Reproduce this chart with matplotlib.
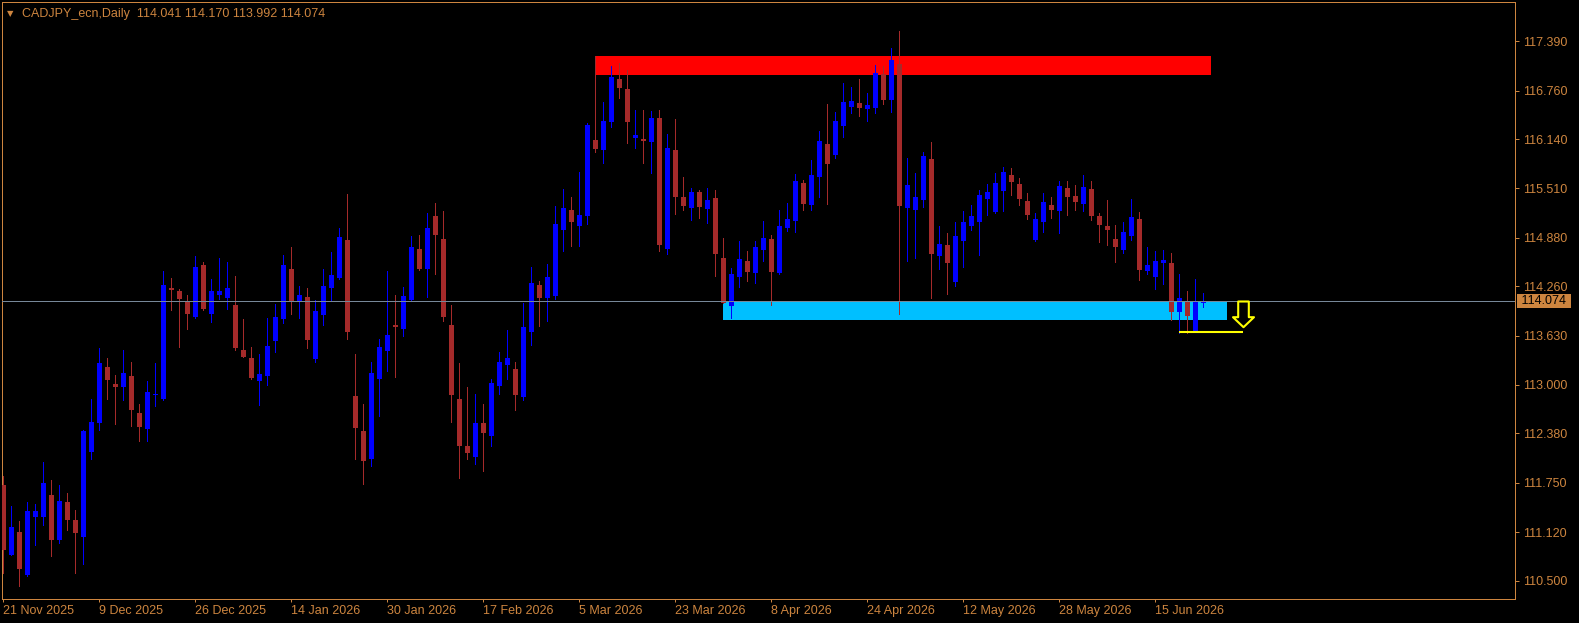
import matplotlib
matplotlib.use('Agg')
import matplotlib.pyplot as plt
from matplotlib.path import Path
from matplotlib.patches import Rectangle
import numpy as np

# daily candles, CADJPY
opens = [111.72, 110.83, 111.12, 110.57, 111.31, 111.31, 111.59, 111.02, 111.50, 111.27,
         111.06, 112.14, 112.51, 113.23, 113.01, 112.97, 113.11, 112.64, 112.44, 112.87,
         112.82, 114.24, 114.20, 114.06, 113.87, 114.53, 113.91, 114.15, 114.11, 114.02,
         113.45, 113.34, 113.05, 113.11, 113.56, 113.84, 114.48, 114.06, 114.12, 113.33,
         113.89, 114.24, 114.37, 114.85, 112.86, 112.41, 112.05, 113.07, 113.43, 113.77,
         113.71, 114.08, 114.74, 114.48, 115.16, 114.86, 113.77, 112.82, 112.22, 112.08,
         112.51, 112.35, 112.99, 113.25, 113.20, 112.85, 113.68, 114.28, 114.11, 114.14,
         114.98, 115.23, 115.03, 115.16, 116.13, 116.00, 116.36, 116.91, 116.78, 116.15,
         116.14, 116.10, 116.41, 114.74, 116.00, 115.40, 115.26, 115.47, 115.25, 115.39,
         114.62, 114.01, 114.38, 114.58, 114.43, 114.72, 114.86, 114.43, 115.00, 115.09,
         115.58, 115.30, 115.66, 116.08, 115.94, 116.31, 116.55, 116.60, 116.53, 116.54,
         116.97, 116.64, 117.10, 115.26, 115.23, 115.36, 115.89, 114.65, 114.79, 114.32,
         114.84, 115.03, 115.08, 115.38, 115.21, 115.48, 115.68, 115.57, 115.35, 114.85,
         115.08, 115.30, 115.22, 115.52, 115.41, 115.31, 115.50, 115.16, 115.03, 114.86,
         114.72, 114.90, 115.12, 114.46, 114.38, 114.56, 114.56, 113.93, 114.06, 113.69,
         114.041]
highs = [111.84, 111.45, 111.26, 111.50, 111.48, 112.01, 111.79, 111.72, 111.62, 111.40,
         112.42, 112.82, 113.47, 113.34, 113.13, 113.45, 113.29, 112.76, 113.05, 113.28,
         114.45, 114.37, 114.23, 114.15, 114.65, 114.57, 114.35, 114.62, 114.57, 114.39,
         113.84, 113.48, 113.40, 113.85, 114.03, 114.66, 114.76, 114.26, 114.24, 114.09,
         114.48, 114.70, 115.00, 115.44, 113.40, 112.76, 113.29, 113.59, 114.45, 114.15,
         114.25, 114.90, 114.92, 115.20, 115.32, 115.22, 114.02, 113.28, 112.97, 112.88,
         112.76, 113.07, 113.42, 113.70, 113.29, 114.05, 114.51, 114.33, 114.55, 115.29,
         115.50, 115.40, 115.72, 116.35, 117.20, 116.61, 117.07, 117.11, 117.02, 116.51,
         116.51, 116.50, 116.51, 116.21, 116.40, 115.66, 115.52, 115.49, 115.52, 115.49,
         114.88, 114.49, 114.84, 114.71, 114.84, 115.09, 114.92, 115.23, 115.32, 115.69,
         115.62, 115.87, 116.24, 116.59, 116.49, 116.86, 116.81, 116.91, 116.73, 117.09,
         117.07, 117.30, 117.52, 115.90, 115.71, 115.98, 116.10, 115.03, 114.94, 115.08,
         115.22, 115.30, 115.49, 115.57, 115.71, 115.78, 115.77, 115.64, 115.45, 115.20,
         115.45, 115.40, 115.60, 115.60, 115.55, 115.68, 115.60, 115.20, 115.36, 115.04,
         115.08, 115.38, 115.21, 114.76, 114.71, 114.72, 114.69, 114.42, 114.20, 114.35,
         114.170]
lows = [110.60, 110.82, 110.43, 110.56, 110.95, 111.21, 110.81, 110.98, 111.15, 110.60,
        110.71, 112.05, 112.42, 112.82, 112.50, 112.81, 112.47, 112.28, 112.28, 112.73,
        112.81, 113.96, 113.48, 113.71, 113.86, 113.96, 113.80, 114.10, 113.97, 113.45,
        113.35, 113.08, 112.74, 113.00, 113.42, 113.79, 113.91, 113.85, 113.47, 113.29,
        113.77, 114.07, 114.35, 113.59, 112.05, 111.73, 111.96, 112.60, 113.18, 113.10,
        113.63, 114.07, 114.47, 114.12, 114.42, 113.82, 112.53, 111.81, 112.05, 111.99,
        111.90, 112.22, 112.88, 113.07, 112.68, 112.81, 113.51, 113.75, 113.82, 114.10,
        114.71, 114.78, 114.78, 115.06, 115.98, 115.83, 116.30, 116.67, 116.09, 116.03,
        115.83, 115.71, 114.71, 114.67, 115.18, 115.23, 115.11, 115.13, 115.07, 114.39,
        114.04, 113.85, 114.25, 114.33, 114.30, 114.58, 114.02, 114.42, 114.97, 114.95,
        115.23, 115.23, 115.40, 115.31, 115.90, 116.17, 116.47, 116.44, 116.37, 116.47,
        116.59, 116.49, 113.91, 114.58, 114.62, 115.27, 114.11, 114.48, 114.16, 114.26,
        114.51, 114.98, 114.66, 115.17, 115.20, 115.22, 115.43, 115.30, 115.12, 114.84,
        114.95, 115.13, 114.94, 115.17, 115.23, 115.22, 115.11, 114.83, 114.79, 114.57,
        114.69, 114.85, 114.34, 114.42, 114.23, 114.29, 113.83, 113.66, 113.66, 113.68,
        113.992]
closes = [110.89, 111.18, 110.65, 111.39, 111.39, 111.75, 111.02, 111.52, 111.27, 111.11,
          112.41, 112.53, 113.28, 113.06, 112.97, 113.15, 112.68, 112.46, 112.91, 112.88,
          114.28, 114.21, 114.10, 113.91, 114.51, 113.97, 114.20, 114.20, 114.24, 113.47,
          113.36, 113.09, 113.14, 113.50, 113.87, 114.53, 114.07, 114.15, 113.57, 113.94,
          114.26, 114.40, 114.89, 113.68, 112.45, 112.03, 113.15, 113.48, 113.64, 113.74,
          114.14, 114.76, 114.48, 115.00, 114.92, 113.87, 112.87, 112.22, 112.13, 112.51,
          112.38, 113.02, 113.29, 113.34, 112.87, 113.74, 114.30, 114.11, 114.38, 115.06,
          115.26, 115.08, 115.17, 116.32, 116.01, 116.37, 116.93, 116.79, 116.36, 116.19,
          116.12, 116.41, 114.79, 116.03, 115.40, 115.29, 115.47, 115.27, 115.36, 114.67,
          114.05, 114.42, 114.61, 114.44, 114.76, 114.88, 114.44, 115.03, 115.12, 115.60,
          115.31, 115.68, 116.12, 115.82, 116.37, 116.61, 116.63, 116.54, 116.58, 116.99,
          116.64, 117.15, 115.29, 115.55, 115.40, 115.93, 114.67, 114.80, 114.56, 114.90,
          115.08, 115.16, 115.43, 115.47, 115.58, 115.72, 115.59, 115.38, 115.17, 115.12,
          115.34, 115.23, 115.54, 115.40, 115.34, 115.53, 115.16, 115.04, 114.98, 114.76,
          114.95, 115.15, 114.47, 114.53, 114.58, 114.60, 113.93, 114.11, 113.88, 114.06,
          114.074]

date_labels = ['21 Nov 2025', '9 Dec 2025', '26 Dec 2025', '14 Jan 2026', '30 Jan 2026',
               '17 Feb 2026', '5 Mar 2026', '23 Mar 2026', '8 Apr 2026', '24 Apr 2026',
               '12 May 2026', '28 May 2026', '15 Jun 2026']
price_ticks = [117.39, 116.76, 116.14, 115.51, 114.88, 114.26, 113.63,
               113.00, 112.38, 111.75, 111.12, 110.50]

# drawn objects: (first bar, last bar, low price, high price)
resistance_zone = (74, 151, 116.96, 117.20)
support_zone = (90, 153, 113.83, 114.06)
target_line = (147, 155, 113.67)
arrow_bar = 155

symbol = 'CADJPY_ecn,Daily'

AXIS = '#CD853F'
BULL = '#0000FF'
BEAR = '#A52A2A'
FS = 9.0

W, H = 1579, 623
fig = plt.figure(figsize=(W / 100, H / 100), dpi=100, facecolor='black')
ax = fig.add_axes([2 / W, 24 / H, 1513 / W, 597 / H], facecolor='black')

o = np.array(opens)
h = np.array(highs)
l = np.array(lows)
c = np.array(closes)
x = np.arange(len(o))
up = c >= o
cols = np.where(up, BULL, BEAR)

# zones behind the candles
for x0, x1, y0, y1, col in [(*resistance_zone, '#FF0000'), (*support_zone, '#00BFFF')]:
    ax.add_patch(Rectangle((x0, y0), x1 - x0, y1 - y0, facecolor=col,
                           edgecolor='none', zorder=1, antialiased=False))

# candles
ax.vlines(x, l, h, colors=cols, linewidth=0.72, zorder=2, antialiased=False)
body_lo = np.minimum(o, c)
body_h = np.maximum(np.abs(c - o), 0.013)
ax.bar(x, body_h, bottom=body_lo, width=0.625, color=cols, linewidth=0,
       zorder=3, antialiased=False)

# bid line + price label
last = closes[-1]
ax.axhline(last, color='#778899', linewidth=0.72, zorder=4)
ax.annotate(f' {last:.3f} ', xy=(1, last), xycoords=ax.get_yaxis_transform(),
            xytext=(2.0, 0), textcoords='offset points', ha='left', va='center',
            fontsize=FS, family='Liberation Sans', color='black',
            bbox=dict(boxstyle='square,pad=0.1', facecolor=AXIS, edgecolor='none'),
            annotation_clip=False, zorder=10)

# target line and down arrow
ax.plot([target_line[0], target_line[1]], [target_line[2]] * 2, color='#FFFF00',
        linewidth=1.5, solid_capstyle='butt', zorder=5)
arrow = Path([(-5.3, 0), (5.3, 0), (5.3, -15.7), (10.5, -15.7), (0, -25.7),
              (-10.5, -15.7), (-5.3, -15.7), (-5.3, 0)], closed=True)
ax.plot([arrow_bar], [last], marker=arrow, markersize=37, markerfacecolor='black',
        markeredgecolor='#FFFF00', markeredgewidth=1.5, linestyle='none', zorder=6)

ax.set_xlim(-0.1625, 188.96)
ax.set_ylim(110.264, 117.892)

ax.yaxis.tick_right()
ax.set_yticks(price_ticks)
ax.set_yticklabels([f'{p:.3f}' for p in price_ticks])
ax.set_xticks(np.arange(0, len(o), 12))
ax.set_xticklabels(date_labels)
for lbl in ax.get_xticklabels():
    lbl.set_horizontalalignment('left')
ax.tick_params(axis='both', direction='out', color=AXIS, labelcolor=AXIS,
               width=0.72, labelsize=FS)
ax.tick_params(axis='y', length=2.6, pad=2.9)
ax.tick_params(axis='x', length=2.4, pad=1.6)
for lbl in ax.get_xticklabels() + ax.get_yticklabels():
    lbl.set_family('Liberation Sans')
for sp in ax.spines.values():
    sp.set_color(AXIS)
    sp.set_linewidth(0.72)

# header
fig.text(7 / W, 1 - 16 / H, '\u25bc', color=AXIS, fontsize=6, family='DejaVu Sans',
         va='baseline')
fig.text(21.7 / W, 1 - 17 / H,
         f'{symbol}  {opens[-1]:.3f} {highs[-1]:.3f} {lows[-1]:.3f} {closes[-1]:.3f}',
         color=AXIS, fontsize=FS, family='Liberation Sans', va='baseline')

fig.savefig('out.png', dpi=100, facecolor='black')
